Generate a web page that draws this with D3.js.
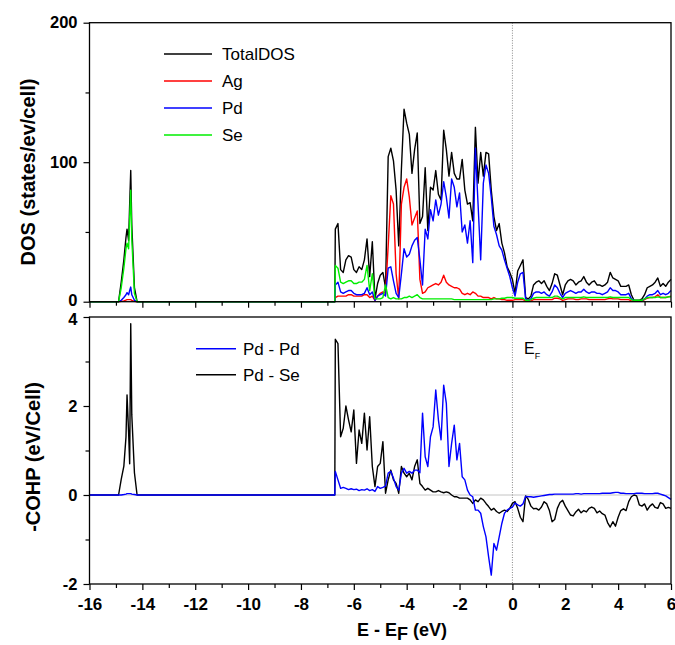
<!DOCTYPE html>
<html>
<head>
<meta charset="utf-8">
<script src="https://cdn.jsdelivr.net/npm/d3@7"></script>
<style>
  body { margin: 0; background: #fff; }
  text { font-family: "Liberation Sans", Arial, sans-serif; }
</style>
</head>
<body>
<div id="chart"></div>
<script>
// Energies (eV, relative to E_F) of the Se-s peak
var peakEnergy = [-14.9, -14.8, -14.7, -14.62, -14.58, -14.52, -14.48, -14.44, -14.4, -14.3, -14.2];

// DOS of the Se-s peak
var peakTotal = [0, 14, 30, 46, 52, 44, 70, 94, 55, 10, 0];
var peakAg    = [0, 0.2, 0.6, 1.2, 1.5, 1.5, 1.5, 1.5, 1, 0.3, 0];
var peakPd    = [0, 1, 3, 5, 6.5, 5, 8, 10.5, 5, 1, 0];
var peakSe    = [0, 10, 24, 38, 42, 38, 60, 80, 45, 6, 0];

// -COHP of the Se-s peak
var peakPdPd = [0, 0, 0.01, 0.02, 0.03, 0.03, 0.03, 0.03, 0.02, 0.01, 0];
var peakPdSe = [0, 0.35, 0.65, 1.3, 2.25, 1.4, 0.7, 3.85, 1.8, 0.5, 0];

// valence band energies
var valenceEnergy = [
  -6.7, -6.6, -6.5, -6.4, -6.3, -6.2, -6.1, -6.0, -5.9, -5.8,
  -5.7, -5.6, -5.5, -5.4, -5.3, -5.2, -5.1, -5.0, -4.9, -4.8,
  -4.7, -4.6, -4.5, -4.4, -4.3, -4.2, -4.1, -4.0, -3.9, -3.8,
  -3.7, -3.6, -3.5, -3.4, -3.3, -3.2, -3.1, -3.0, -2.9, -2.8,
  -2.7, -2.6, -2.5, -2.4, -2.3, -2.2, -2.1, -2.0, -1.9, -1.8,
  -1.7, -1.6, -1.5, -1.4, -1.3, -1.2, -1.1, -1.0, -0.9, -0.8,
  -0.7, -0.6, -0.5, -0.4, -0.3, -0.2, -0.1, 0.0,
  0.1, 0.2, 0.3, 0.4, 0.5, 0.6, 0.7, 0.8, 0.9, 1.0,
  1.1, 1.2, 1.3, 1.4, 1.5, 1.6, 1.7, 1.8, 1.9, 2.0,
  2.1, 2.2, 2.3, 2.4, 2.5, 2.6, 2.7, 2.8, 2.9, 3.0,
  3.1, 3.2, 3.3, 3.4, 3.5, 3.6, 3.7, 3.8, 3.9, 4.0,
  4.1, 4.2, 4.3, 4.4, 4.5, 4.6, 4.7, 4.8, 4.9, 5.0,
  5.1, 5.2, 5.3, 5.4, 5.5, 5.6, 5.7, 5.8, 5.9, 6.0
];

// DOS (states/ev/cell) in the valence region
var totalDOS = [
  52, 56, 23, 21, 30, 33, 32, 23, 21, 25,
  23, 30, 45, 18, 43, 2, 13, 19, 21, 10,
  104, 110, 101, 80, 40, 95, 138, 128, 120, 92,
  109, 121, 56, 61, 96, 51, 82, 80, 94, 77,
  73, 123, 109, 90, 107, 92, 88, 88, 102, 80,
  70, 71, 58, 125, 85, 107, 90, 107, 106, 80,
  61, 51, 56, 42, 35, 25, 21, 16,
  6, 22, 26, 30, 3, 2, 4, 12, 14, 15,
  13, 15, 11, 8, 13, 20, 19, 12, 5, 12,
  15, 16, 15, 12, 14, 15, 18, 14, 12, 14,
  15, 12, 12, 11, 12, 14, 21, 17, 16, 15,
  11, 11, 11, 12, 5, 1, 1, 1, 2, 5,
  10, 11, 12, 14, 17, 11, 13, 11, 14, 16
];
var agDOS = [
  3, 4, 4, 4, 4, 5, 5, 4, 4, 4,
  4, 5, 5, 3, 4, 1, 4, 6, 7, 6,
  40, 76, 70, 20, 2, 70, 82, 88, 75, 55,
  60, 65, 16, 6, 7, 10, 11, 12, 13, 12,
  14, 19, 14, 12, 11, 10, 10, 9, 6, 5,
  6, 5, 7, 6, 4, 4, 3, 3, 3, 2,
  3, 2, 2, 1.5, 1.5, 1, 1, 1,
  1.5, 1.5, 1.5, 1.5, 0.5, 0.5, 0.5, 1.5, 1.5, 1.5,
  1.5, 1.5, 1.5, 1.5, 1.5, 2.5, 2.5, 2, 1, 1.5,
  2, 2, 2, 1.5, 1.5, 2, 2, 2, 1.5, 1.5,
  1.5, 1.5, 1.5, 1.5, 1.5, 2, 2.5, 2, 2, 2,
  1.5, 1.5, 1.5, 1.5, 0.5, 0.3, 0.3, 0.3, 0.5, 1.5,
  2.5, 3, 3, 3.5, 5, 3, 3, 3, 3.5, 4
];
var pdDOS = [
  12, 14, 7, 6, 7, 8, 8, 6, 5, 5,
  5, 6, 10, 5, 7, 1, 4, 5, 6, 4,
  24, 25, 15, 6, 3, 20, 38, 32, 34, 40,
  44, 46, 30, 12, 52, 45, 66, 58, 73, 62,
  70, 86, 75, 60, 88, 82, 68, 78, 50, 55,
  42, 58, 28, 110, 70, 30, 85, 98, 92, 75,
  54, 48, 40, 37, 30, 24, 18, 10,
  4, 14, 20, 21, 2, 1, 2, 6, 7, 7,
  6, 7, 5, 4, 7, 12, 10, 6, 3, 6,
  7, 8, 7, 6, 7, 7, 9, 7, 6, 7,
  7, 6, 6, 5, 6, 7, 10, 8, 8, 7,
  5, 5, 5, 6, 2, 1, 0.5, 0.5, 1, 2,
  4, 5, 5, 6, 8, 5, 6, 5, 6, 8
];
var seDOS = [
  26, 24, 14, 13, 14, 15, 15, 13, 13, 14,
  14, 16, 26, 8, 20, 2, 2, 2, 3, 12,
  3, 2, 3, 2, 2, 2, 3, 3, 4, 3,
  4, 5, 3, 2, 2, 2, 2, 2, 2, 2,
  2, 2, 2, 2, 2, 1.5, 1.5, 1.5, 1.5, 1.5,
  1.5, 1.5, 1.5, 1.5, 1.5, 1.5, 1.5, 1.5, 1.5, 1.5,
  2, 2, 2, 2.5, 2.5, 3, 3, 3,
  2.5, 2.5, 2.5, 2.5, 1, 1, 1.5, 2.5, 3, 3,
  3, 3, 3, 3, 3, 4, 4, 3, 2, 3,
  3, 3, 3, 3, 3, 3, 3.5, 3, 3, 3,
  3, 3, 3, 3, 3, 3, 3.5, 3, 3, 3,
  3, 3, 3, 3, 1.5, 1, 1, 1, 1, 2,
  3, 3, 3, 3, 3.5, 3, 3, 3, 3.5, 3.5
];

// -COHP (eV/Cell) in the valence region
var cohpPdPd = [
  0.53, 0.34, 0.15, 0.17, 0.15, 0.12, 0.14, 0.12, 0.13, 0.1,
  0.12, 0.11, 0.14, 0.1, 0.12, 0.08, 0.19, 0.15, 0.17, 0.2,
  0.49, 0.53, 0.38, 0.19, 0.11, 0.49, 0.6, 0.49, 0.53, 0.49,
  0.56, 0.56, 0.5, 1.84, 0.86, 0.64, 1.31, 1.53, 2.36, 1.69,
  1.24, 2.47, 2.06, 0.64, 1.16, 1.57, 0.79, 1.16, 0.41, 0.34,
  0.11, 0, -0.04, -0.34, -0.34, -0.41, -0.71, -0.94, -1.39, -1.8,
  -1.09, -1.24, -0.94, -0.64, -0.41, -0.34, -0.3, -0.27,
  -0.18, -0.22, -0.25, -0.2, -0.03, -0.04, -0.04, -0.05, -0.04, -0.03,
  -0.02, -0.01, 0, 0.01, 0.01, 0.02, 0.02, 0.02, 0.02, 0.02,
  0.02, 0.02, 0.02, 0.03, 0.03, 0.02, 0.03, 0.03, 0.03, 0.03,
  0.03, 0.03, 0.03, 0.04, 0.04, 0.04, 0.04, 0.05, 0.06, 0.06,
  0.04, 0.04, 0.03, 0.03, 0.03, 0.03, 0.04, 0.04, 0.04, 0.03,
  0.03, 0.03, 0.03, 0.04, 0.04, 0.02, 0, -0.02, -0.06, -0.1
];
var cohpPdSe = [
  3.5, 3.4, 1.31, 1.5, 2.0, 1.69, 1.42, 1.91, 0.71, 1.46,
  1.16, 1.84, 1.01, 1.76, 0.64, 0.19, 0.64, 0.71, 1.2, 0.04,
  0.34, 0.56, 0.34, 0.26, 0.04, 0.64, 0.49, 0.41, 0.49, 0.34,
  0.64, 0.79, 0.26, 0.19, 0.11, 0.15, 0.11, 0.07, 0.07, 0.1,
  0.07, 0.05, 0.07, 0.05, 0.0, -0.04, -0.04, -0.07, -0.07, -0.07,
  -0.07, -0.11, -0.19, -0.11, -0.15, -0.07, -0.11, -0.19, -0.26, -0.34,
  -0.3, -0.37, -0.41, -0.37, -0.34, -0.37, -0.3, -0.19,
  -0.15, -0.3, -0.5, -0.6, -0.02, -0.1, -0.25, -0.31, -0.3, -0.34,
  -0.27, -0.15, -0.2, -0.35, -0.6, -0.55, -0.3, -0.17, -0.12, -0.25,
  -0.35, -0.45, -0.47, -0.38, -0.32, -0.4, -0.35, -0.38, -0.3, -0.27,
  -0.3, -0.4, -0.36, -0.42, -0.45, -0.62, -0.72, -0.6, -0.7, -0.5,
  -0.35, -0.31, -0.35, -0.15, -0.04, 0, -0.02, -0.22, -0.25, -0.2,
  -0.34, -0.25, -0.2, -0.28, -0.3, -0.17, -0.2, -0.3, -0.28, -0.3
];

var dosLegend = ["TotalDOS", "Ag", "Pd", "Se"];
var cohpLegend = ["Pd - Pd", "Pd - Se"];
var xTicks = [-16, -14, -12, -10, -8, -6, -4, -2, 0, 2, 4, 6];
var xMinorTicks = [-15, -13, -11, -9, -7, -5, -3, -1, 1, 3, 5];
var dosTicks = [0, 100, 200];
var dosMinorTicks = [50, 150];
var cohpTicks = [-2, 0, 2, 4];
var cohpMinorTicks = [-1, 1, 3];

// svg
var svgWidth = 675;
var svgHeight = 645;

var svg = d3.select("#chart")
  .append("svg")
  .attr("width", svgWidth)
  .attr("height", svgHeight);

// scales
var xScale = d3.scaleLinear().domain([-16, 6]).range([89.5, 671]);
var yDos = d3.scaleLinear().domain([0, 200]).range([301.7, 22.7]);
var yCohp = d3.scaleLinear().domain([-2, 4]).range([584, 317]);

// join peak + valence into one curve, flat zero between them
function buildSeries(peakVals, valVals) {
  var pts = [[-16, 0]];
  peakEnergy.forEach(function(e, i) { pts.push([e, peakVals[i]]); });
  pts.push([-6.72, 0]);
  valenceEnergy.forEach(function(e, i) { pts.push([e, valVals[i]]); });
  return pts;
}

var fmt = function(d) { return String(d); };

function styleAxis(g, fontSize) {
  g.select(".domain").remove();
  g.selectAll(".tick line").attr("stroke", "#000").attr("stroke-width", 1.2);
  g.selectAll(".tick text")
    .attr("fill", "#000")
    .style("font-size", fontSize + "px")
    .style("font-weight", "bold")
    .style("font-family", '"Liberation Sans", Arial, sans-serif');
}

// ---------- top panel: DOS ----------
var dosPanel = svg.append("g");

dosPanel.append("line")
  .attr("x1", xScale(0)).attr("x2", xScale(0))
  .attr("y1", yDos(200)).attr("y2", yDos(0))
  .attr("stroke", "#888").attr("stroke-width", 1)
  .attr("stroke-dasharray", "1,1.5");

var dosLine = d3.line()
  .x(function(d) { return xScale(d[0]); })
  .y(function(d) { return yDos(d[1]); });

var dosSeries = [
  { name: "TotalDOS", color: "#000000", pts: buildSeries(peakTotal, totalDOS) },
  { name: "Ag", color: "#ff0000", pts: buildSeries(peakAg, agDOS) },
  { name: "Pd", color: "#0000ff", pts: buildSeries(peakPd, pdDOS) },
  { name: "Se", color: "#00ee00", pts: buildSeries(peakSe, seDOS) }
];

dosPanel.selectAll("path.dos")
  .data(dosSeries)
  .enter()
  .append("path")
  .attr("class", "dos")
  .attr("d", function(d) { return dosLine(d.pts); })
  .attr("fill", "none")
  .attr("stroke", function(d) { return d.color; })
  .attr("stroke-width", 1.4)
  .attr("stroke-linejoin", "round");

dosPanel.append("rect")
  .attr("x", xScale(-16)).attr("y", yDos(200))
  .attr("width", xScale(6) - xScale(-16))
  .attr("height", yDos(0) - yDos(200))
  .attr("fill", "none").attr("stroke", "#000").attr("stroke-width", 1.3);

dosPanel.append("g")
  .attr("transform", "translate(0," + yDos(0) + ")")
  .call(d3.axisBottom(xScale).tickValues(xTicks).tickSize(6).tickFormat(""))
  .call(styleAxis, 17);
dosPanel.append("g")
  .attr("transform", "translate(0," + yDos(0) + ")")
  .call(d3.axisBottom(xScale).tickValues(xMinorTicks).tickSize(4).tickFormat(""))
  .call(styleAxis, 17);

dosPanel.append("g")
  .attr("transform", "translate(" + xScale(-16) + ",0)")
  .call(d3.axisLeft(yDos).tickValues(dosTicks).tickSize(6).tickPadding(6).tickFormat(fmt))
  .call(styleAxis, 16.5)
  .selectAll(".tick text")
  .filter(function(d) { return d === 0; })
  .attr("dy", "0.2em");
dosPanel.append("g")
  .attr("transform", "translate(" + xScale(-16) + ",0)")
  .call(d3.axisLeft(yDos).tickValues(dosMinorTicks).tickSize(4).tickFormat(""))
  .call(styleAxis, 17);

dosPanel.append("text")
  .attr("transform", "translate(35,172) rotate(-90)")
  .attr("text-anchor", "middle")
  .style("font-size", "20px")
  .style("font-weight", "bold")
  .text("DOS (states/ev/cell)");

// legend
var dosLeg = dosPanel.selectAll("g.dleg")
  .data(dosSeries)
  .enter()
  .append("g")
  .attr("class", "dleg")
  .attr("transform", function(d, i) { return "translate(0," + (54 + i * 27) + ")"; });
dosLeg.append("line")
  .attr("x1", 164).attr("x2", 212)
  .attr("stroke", function(d) { return d.color; })
  .attr("stroke-width", 1.6);
dosLeg.append("text")
  .attr("x", 222).attr("dy", "0.36em")
  .style("font-size", "17px")
  .text(function(d, i) { return dosLegend[i]; });

// ---------- bottom panel: -COHP ----------
var cohpPanel = svg.append("g");

cohpPanel.append("line")
  .attr("x1", xScale(0)).attr("x2", xScale(0))
  .attr("y1", yCohp(4)).attr("y2", yCohp(-2))
  .attr("stroke", "#888").attr("stroke-width", 1)
  .attr("stroke-dasharray", "1,1.5");
cohpPanel.append("line")
  .attr("x1", xScale(-16)).attr("x2", xScale(6))
  .attr("y1", yCohp(0)).attr("y2", yCohp(0))
  .attr("stroke", "#888").attr("stroke-width", 1)
  .attr("stroke-dasharray", "1,1");

var cohpLine = d3.line()
  .x(function(d) { return xScale(d[0]); })
  .y(function(d) { return yCohp(d[1]); });

var cohpSeries = [
  { name: "Pd - Se", color: "#000000", pts: buildSeries(peakPdSe, cohpPdSe) },
  { name: "Pd - Pd", color: "#0000ff", pts: buildSeries(peakPdPd, cohpPdPd) }
];

cohpPanel.selectAll("path.cohp")
  .data(cohpSeries)
  .enter()
  .append("path")
  .attr("class", "cohp")
  .attr("d", function(d) { return cohpLine(d.pts); })
  .attr("fill", "none")
  .attr("stroke", function(d) { return d.color; })
  .attr("stroke-width", 1.4)
  .attr("stroke-linejoin", "round");

cohpPanel.append("rect")
  .attr("x", xScale(-16)).attr("y", yCohp(4))
  .attr("width", xScale(6) - xScale(-16))
  .attr("height", yCohp(-2) - yCohp(4))
  .attr("fill", "none").attr("stroke", "#000").attr("stroke-width", 1.3);

cohpPanel.append("g")
  .attr("transform", "translate(0," + yCohp(-2) + ")")
  .call(d3.axisBottom(xScale).tickValues(xTicks).tickSize(6).tickPadding(8).tickFormat(fmt))
  .call(styleAxis, 17);
cohpPanel.append("g")
  .attr("transform", "translate(0," + yCohp(-2) + ")")
  .call(d3.axisBottom(xScale).tickValues(xMinorTicks).tickSize(4).tickFormat(""))
  .call(styleAxis, 17);

cohpPanel.append("g")
  .attr("transform", "translate(" + xScale(-16) + ",0)")
  .call(d3.axisLeft(yCohp).tickValues(cohpTicks).tickSize(6).tickPadding(6).tickFormat(fmt))
  .call(styleAxis, 16.5)
  .selectAll(".tick text")
  .filter(function(d) { return d === 4; })
  .attr("dy", "0.45em");
cohpPanel.append("g")
  .attr("transform", "translate(" + xScale(-16) + ",0)")
  .call(d3.axisLeft(yCohp).tickValues(cohpMinorTicks).tickSize(4).tickFormat(""))
  .call(styleAxis, 17);

cohpPanel.append("text")
  .attr("transform", "translate(40,457) rotate(-90)")
  .attr("text-anchor", "middle")
  .style("font-size", "20px")
  .style("font-weight", "bold")
  .text("-COHP (eV/Cell)");

// legend (Pd - Pd listed first)
var cohpLegData = [cohpSeries[1], cohpSeries[0]];
var cohpLeg = cohpPanel.selectAll("g.cleg")
  .data(cohpLegData)
  .enter()
  .append("g")
  .attr("class", "cleg")
  .attr("transform", function(d, i) { return "translate(0," + (348.7 + i * 26) + ")"; });
cohpLeg.append("line")
  .attr("x1", 196).attr("x2", 236)
  .attr("stroke", function(d) { return d.color; })
  .attr("stroke-width", 1.6);
cohpLeg.append("text")
  .attr("x", 243).attr("dy", "0.36em")
  .style("font-size", "17px")
  .text(function(d, i) { return cohpLegend[i]; });

// E_F marker
var ef = cohpPanel.append("text")
  .attr("x", 524).attr("y", 354)
  .style("font-size", "16px");
ef.append("tspan").text("E");
ef.append("tspan").attr("dy", 5).style("font-size", "9px").text("F");

// x axis title
var xt = svg.append("text")
  .attr("x", 402).attr("y", 636)
  .attr("text-anchor", "middle")
  .style("font-size", "18px")
  .style("font-weight", "bold");
xt.append("tspan").text("E - E");
xt.append("tspan").attr("dy", 4).text("F");
xt.append("tspan").attr("dy", -4).text(" (eV)");
</script>
</body>
</html>
